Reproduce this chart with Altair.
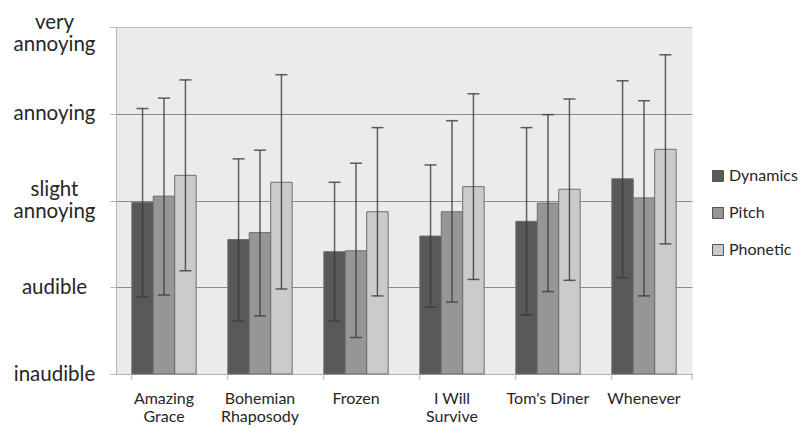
import json
import altair as alt
import pandas as pd

songs = ["Amazing Grace", "Bohemian Rhaposody", "Frozen", "I Will Survive", "Tom's Diner", "Whenever"]
series = ["Dynamics", "Pitch", "Phonetic"]

dynamics_mean = [2.98, 2.55, 2.41, 2.59, 2.76, 3.25]
dynamics_hi = [4.06, 3.48, 3.21, 3.41, 3.84, 4.38]
dynamics_lo = [1.89, 1.61, 1.61, 1.77, 1.68, 2.11]

pitch_mean = [3.05, 2.63, 2.42, 2.87, 2.97, 3.03]
pitch_hi = [4.18, 3.58, 3.43, 3.92, 3.99, 4.15]
pitch_lo = [1.91, 1.67, 1.42, 1.83, 1.95, 1.90]

phonetic_mean = [3.29, 3.21, 2.87, 3.16, 3.13, 3.59]
phonetic_hi = [4.39, 4.45, 3.84, 4.23, 4.17, 4.68]
phonetic_lo = [2.19, 1.98, 1.90, 2.09, 2.08, 2.50]

level_values = [1, 2, 3, 4, 5]
level_labels = [["inaudible"], ["audible"], ["slight", "annoying"], ["annoying"], ["very", "annoying"]]
song_label_lines = {
    "Amazing Grace": ["Amazing", "Grace"],
    "Bohemian Rhaposody": ["Bohemian", "Rhaposody"],
    "Frozen": ["Frozen"],
    "I Will Survive": ["I Will", "Survive"],
    "Tom's Diner": ["Tom's Diner"],
    "Whenever": ["Whenever"],
}
colors = ["#595959", "#969696", "#cbcbcb"]

rows = []
for s, m, h, l in [("Dynamics", dynamics_mean, dynamics_hi, dynamics_lo),
                   ("Pitch", pitch_mean, pitch_hi, pitch_lo),
                   ("Phonetic", phonetic_mean, phonetic_hi, phonetic_lo)]:
    for i, song in enumerate(songs):
        rows.append({"song": song, "series": s, "mean": m[i], "hi": h[i], "lo": l[i]})
df = pd.DataFrame(rows)

FONT = "Lato"

y_expr = json.dumps(level_labels) + "[datum.value - 1]"
x_expr = json.dumps(song_label_lines) + "[datum.value]"

x_enc = alt.X("song:N", sort=songs,
              scale=alt.Scale(paddingInner=0.33, paddingOuter=0.165),
              axis=alt.Axis(title=None, labelAngle=0, labelExpr=x_expr, ticks=False,
                            domainColor="#b5b5b5", labelFont=FONT, labelFontSize=16,
                            labelColor="#262626", labelPadding=16, labelLineHeight=18,
                            labelBaseline="top"))
xo = alt.XOffset("series:N", sort=series, scale=alt.Scale(paddingInner=0, paddingOuter=0))
y_scale = alt.Scale(domain=[1, 5], nice=False, zero=False)

base = alt.Chart(df)

bars = base.mark_bar(stroke="#6e6e6e", strokeWidth=1).encode(
    x=x_enc,
    xOffset=xo,
    y=alt.Y("mean:Q", scale=y_scale,
            axis=alt.Axis(title=None, values=level_values, labelExpr=y_expr,
                          labelFont=FONT, labelFontSize=20.5, labelColor="#262626",
                          labelAlign="center", labelBaseline="middle",
                          labelPadding=56, tickSize=6, tickColor="#b5b5b5",
                          domainColor="#b5b5b5", labelLineHeight=22,
                          labelOffset={"condition": [
                              {"test": "datum.value == 3", "value": -11},
                              {"test": "datum.value == 5", "value": -5}],
                              "value": 0},
                          grid=True,
                          gridColor={"condition": {"test": "datum.value == 5", "value": "#b8b8b8"},
                                     "value": "#8c8c8c"},
                          gridWidth=1)),
    y2=alt.datum(1),
    color=alt.Color("series:N", sort=series,
                    scale=alt.Scale(domain=series, range=colors),
                    legend=alt.Legend(title=None, orient="none", legendX=594, legendY=141,
                                      symbolType="square", symbolSize=121,
                                      symbolStrokeColor="#555555", symbolStrokeWidth=1,
                                      labelFont=FONT, labelFontSize=16, labelColor="#262626",
                                      rowPadding=21, labelOffset=3)),
)

rules = base.mark_rule(color="#3a3a3a", strokeWidth=1.5, opacity=0.8).encode(
    x=alt.X("song:N", sort=songs),
    xOffset=xo,
    y=alt.Y("lo:Q", scale=y_scale),
    y2="hi:Q",
)

caps = base.transform_fold(["lo", "hi"], as_=["kind", "v"]).mark_tick(
    color="#3a3a3a", size=12, thickness=1.5, opacity=0.8
).encode(
    x=alt.X("song:N", sort=songs),
    xOffset=xo,
    y=alt.Y("v:Q", scale=y_scale),
)

cat_ticks = alt.Chart(pd.DataFrame({"song": songs})).mark_rule(color="#b5b5b5").encode(
    x=alt.X("song:N", sort=songs, bandPosition=0),
    y=alt.value(347),
    y2=alt.value(353),
)
end_tick = alt.Chart(pd.DataFrame({"song": songs[-1:]})).mark_rule(color="#b5b5b5").encode(
    x=alt.value(576),
    y=alt.value(347),
    y2=alt.value(353),
)

chart = alt.layer(bars, rules, caps, cat_ticks, end_tick).properties(
    width=576, height=347,
    autosize=alt.AutoSizeParams(type="none"),
    padding={"left": 108, "top": 19, "right": 107, "bottom": 52},
).configure_view(fill="#ebebeb", stroke="transparent").configure_axis(
    domainWidth=1
)

chart.save("out.html", embed_options={"renderer": "svg", "actions": False})
